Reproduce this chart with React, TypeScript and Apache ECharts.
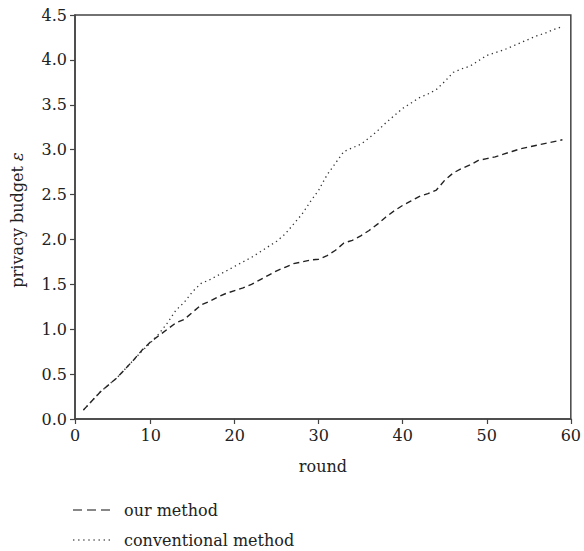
import React, { useEffect, useRef } from "react";
import * as echarts from "echarts";

const rounds: number[] = [2,3,4,5,6,7,8,9,10,11,12,13,14,15,16,17,18,19,20,21,22,23,24,25,26,27,28,29,30,31,32,33,34,35,36,37,38,39,40,41,42,43,44,45,46,47,48,49,50,51,52,53,54,55,56,57,58,59];
const ourMethod: number[] = [0.10,0.20,0.30,0.38,0.46,0.56,0.66,0.77,0.86,0.93,1.00,1.07,1.11,1.19,1.27,1.31,1.36,1.40,1.43,1.46,1.50,1.55,1.60,1.65,1.69,1.73,1.75,1.77,1.78,1.82,1.88,1.96,1.99,2.04,2.10,2.17,2.25,2.32,2.38,2.43,2.48,2.51,2.55,2.66,2.74,2.79,2.83,2.88,2.90,2.92,2.95,2.98,3.01,3.03,3.05,3.07,3.09,3.11];
const conventional: number[] = [0.10,0.20,0.30,0.38,0.46,0.56,0.66,0.76,0.85,0.95,1.07,1.21,1.30,1.42,1.51,1.55,1.60,1.65,1.70,1.75,1.80,1.86,1.92,1.98,2.06,2.17,2.28,2.42,2.55,2.72,2.85,2.98,3.02,3.06,3.13,3.21,3.30,3.38,3.46,3.52,3.58,3.62,3.67,3.76,3.86,3.90,3.93,3.99,4.05,4.08,4.11,4.15,4.19,4.23,4.27,4.30,4.34,4.37];
const xTicks: number[] = [1, 10, 20, 30, 40, 50, 60];
const xTickLabels: string[] = ["0", "10", "20", "30", "40", "50", "60"];
const seriesNames: string[] = ["our method", "conventional method"];

const FONT = "DejaVu Serif";
const AXIS_COLOR = "#444";
const DASH_ICON = "path://M0,0H9V1H0Z M14,0H23V1H14Z M28,0H37V1H28Z";
const DOT_ICON = "path://M0,0H1.4V1H0Z M5.1,0H6.5V1H5.1Z M10.2,0H11.6V1H10.2Z M15.3,0H16.7V1H15.3Z M20.4,0H21.8V1H20.4Z M25.5,0H26.9V1H25.5Z M30.6,0H32V1H30.6Z M35.6,0H37V1H35.6Z";

export default function App() {
  const ref = useRef<HTMLDivElement>(null);
  useEffect(() => {
    if (!ref.current) return;
    const chart = echarts.init(ref.current, null, { renderer: "svg" });
    chart.setOption({
      animation: false,
      backgroundColor: "#fff",
      grid: {
        left: 75, right: 11, top: 15, bottom: 132,
        show: true, borderColor: AXIS_COLOR, borderWidth: 1.5, backgroundColor: "transparent",
      },
      legend: {
        orient: "vertical",
        left: 73,
        top: 500,
        padding: 0,
        itemWidth: 37,
        itemHeight: 2,
        itemGap: 10,
        textStyle: { fontFamily: FONT, fontSize: 16, lineHeight: 20, color: "#222", padding: [0, 0, 0, 9] },
        data: [
          { name: seriesNames[0], icon: DASH_ICON, itemStyle: { color: "#111" } },
          { name: seriesNames[1], icon: DOT_ICON, itemStyle: { color: "#111" } },
        ],
      },
      graphic: [
        {
          type: "text",
          x: 17,
          y: 220,
          rotation: Math.PI / 2,
          style: {
            text: "privacy budget {i|ε}",
            fontFamily: FONT,
            fontSize: 16,
            fill: "#222",
            align: "center",
            verticalAlign: "middle",
            rich: { i: { fontFamily: FONT, fontSize: 16, fontStyle: "italic", fill: "#222" } },
          },
        },
      ],
      xAxis: {
        type: "value",
        min: 1,
        max: 60,
        name: "round",
        nameLocation: "middle",
        nameGap: 39,
        nameTextStyle: { fontFamily: FONT, fontSize: 16, color: "#222" },
        axisLine: { show: true, onZero: false, lineStyle: { color: AXIS_COLOR, width: 1.5 } },
        axisTick: { show: true, inside: false, length: 5, customValues: xTicks, lineStyle: { color: AXIS_COLOR, width: 1.2 } },
        axisLabel: {
          customValues: xTicks,
          formatter: (v: number) => xTickLabels[xTicks.indexOf(v)] ?? String(v),
          fontFamily: FONT, fontSize: 16, color: "#222", margin: 8,
        },
        splitLine: { show: false },
      },
      yAxis: {
        type: "value",
        min: 0,
        max: 4.5,
        interval: 0.5,
        axisLine: { show: true, lineStyle: { color: AXIS_COLOR, width: 1.5 } },
        axisTick: { show: true, inside: false, length: 5, lineStyle: { color: AXIS_COLOR, width: 1.2 } },
        axisLabel: {
          formatter: (v: number) => v.toFixed(1),
          fontFamily: FONT, fontSize: 16, color: "#222", margin: 8,
        },
        splitLine: { show: false },
      },
      series: [
        {
          name: seriesNames[0],
          type: "line",
          data: rounds.map((r, i) => [r, ourMethod[i]]),
          symbol: "none",
          smooth: false,
          lineStyle: { color: "#222", width: 1.4, type: [6, 4] },
          itemStyle: { color: "#222" },
        },
        {
          name: seriesNames[1],
          type: "line",
          data: rounds.map((r, i) => [r, conventional[i]]),
          symbol: "none",
          smooth: false,
          lineStyle: { color: "#333", width: 1.3, type: [1.3, 3.5] },
          itemStyle: { color: "#333" },
        },
      ],
    });
    return () => chart.dispose();
  }, []);
  return (
    <div
      ref={ref}
      style={{ position: "fixed", left: 0, top: 0, width: 584, height: 551, background: "#fff" }}
    />
  );
}
